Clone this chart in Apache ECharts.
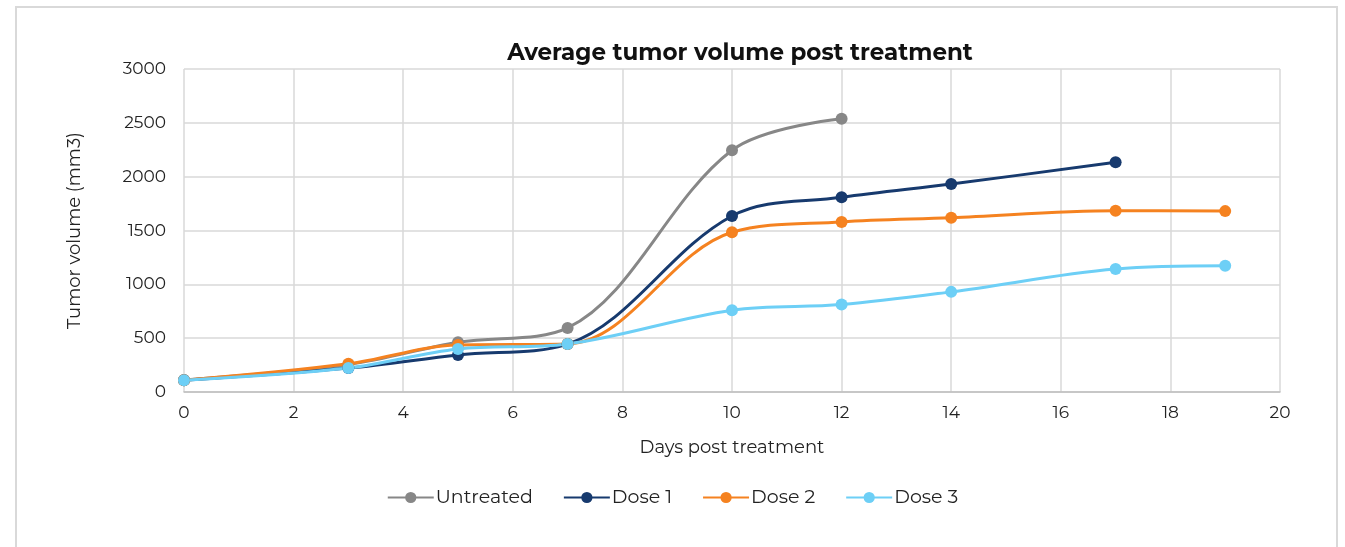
<!DOCTYPE html>
<html><head><meta charset="utf-8">
<script src="https://cdn.jsdelivr.net/npm/echarts@6/dist/echarts.min.js"></script>
<style>
html,body{margin:0;padding:0;background:#fff;}
#frame{position:absolute;left:15px;top:6px;width:1323px;height:560px;border:2px solid #d9d9d9;box-sizing:border-box;}
#chart{position:absolute;left:0;top:0;width:1345px;height:547px;}
</style></head>
<body>
<div id="frame"></div>
<div id="chart"></div>
<script>
const seriesNames = ["Untreated", "Dose 1", "Dose 2", "Dose 3"];
const untreatedDays = [0, 3, 5, 7, 10, 12];
const untreatedVals = [112, 255, 462, 595, 2245, 2538];
const dose1Days = [0, 3, 5, 7, 10, 12, 14, 17];
const dose1Vals = [110, 222, 344, 445, 1635, 1808, 1932, 2133];
const dose2Days = [0, 3, 5, 7, 10, 12, 14, 17, 19];
const dose2Vals = [110, 262, 437, 446, 1484, 1580, 1618, 1683, 1680];
const dose3Days = [0, 3, 5, 7, 10, 12, 14, 17, 19];
const dose3Vals = [110, 222, 400, 446, 760, 812, 930, 1142, 1172];
const xTicks = [0, 2, 4, 6, 8, 10, 12, 14, 16, 18, 20];
const yTicks = [0, 500, 1000, 1500, 2000, 2500, 3000];
const colors = ["#878787", "#173a6e", "#f58220", "#6dcff6"];

const pairs = (d, v) => d.map((x, i) => [x, v[i]]);
const allData = [pairs(untreatedDays, untreatedVals), pairs(dose1Days, dose1Vals), pairs(dose2Days, dose2Vals), pairs(dose3Days, dose3Vals)];
const font = "Montserrat, 'Noto Sans', 'Open Sans', sans-serif";

const chart = echarts.init(document.getElementById('chart'));
chart.setOption({
  animation: false,
  title: {text: "Average tumor volume post treatment", left: 735, textAlign: 'center', top: 37,
    textStyle: {fontFamily: font, fontWeight: 'bold', fontSize: 23, color: '#111'}},
  grid: {left: 184, right: 65, top: 69, bottom: 155},
  legend: {bottom: 35, left: 'center', itemWidth: 46, itemHeight: 14, itemGap: 30,
    textStyle: {fontFamily: font, fontSize: 19, color: '#222', padding: [0, 0, 0, -3]}, data: seriesNames},
  xAxis: {type: 'value', min: xTicks[0], max: xTicks[xTicks.length-1], interval: 2,
    name: "Days post treatment", nameLocation: 'middle', nameGap: 47,
    nameTextStyle: {fontFamily: font, fontSize: 18, color: '#222'},
    axisLine: {show: true, lineStyle: {color: '#bfbfbf', width: 1.5}}, axisTick: {show: false},
    axisLabel: {fontFamily: font, fontSize: 17, color: '#222', margin: 12},
    splitLine: {show: true, lineStyle: {color: '#d9d9d9', width: 1.5}}},
  yAxis: {type: 'value', min: yTicks[0], max: yTicks[yTicks.length-1], interval: 500,
    name: "Tumor volume (mm3)", nameLocation: 'middle', nameGap: 100, nameRotate: 90,
    nameTextStyle: {fontFamily: font, fontSize: 18, color: '#222'},
    axisLine: {show: false}, axisTick: {show: false},
    axisLabel: {fontFamily: font, fontSize: 17, color: '#222', margin: 18, formatter: v => String(v)},
    splitLine: {show: true, lineStyle: {color: '#d9d9d9', width: 1.5}}},
  series: seriesNames.map((n, i) => ({
    name: n, type: 'line', data: allData[i], smooth: 0.35,
    symbol: 'circle', symbolSize: 12, color: colors[i],
    lineStyle: {width: 3, color: colors[i]}, itemStyle: {color: colors[i]}
  }))
});
</script>
</body></html>
